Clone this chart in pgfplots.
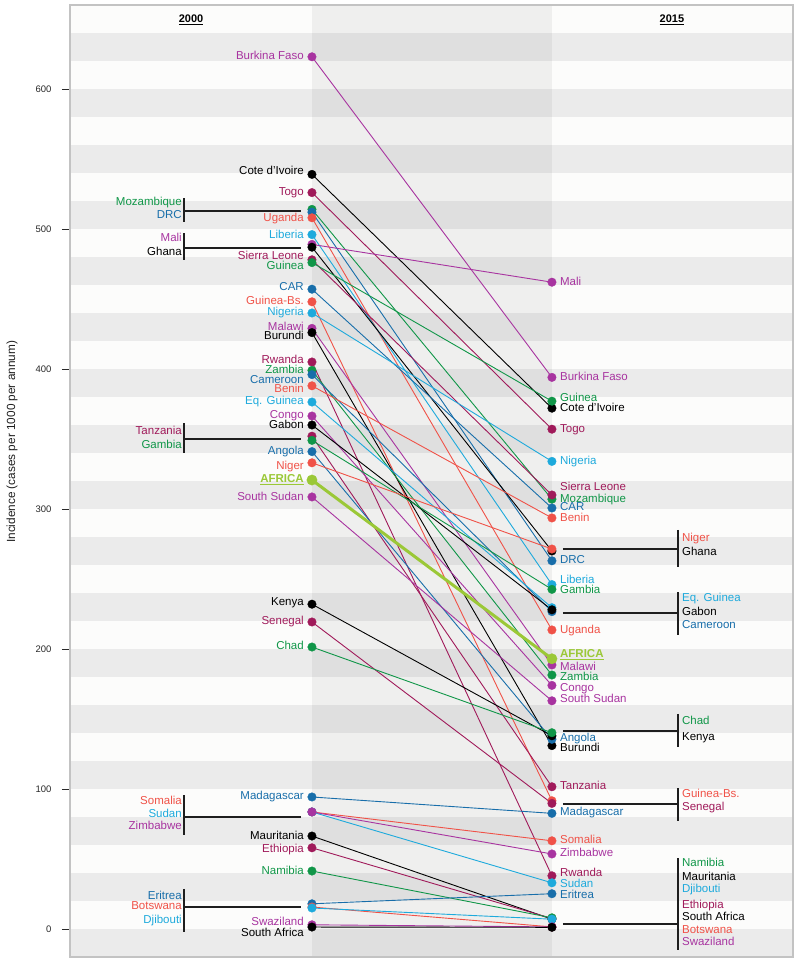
\documentclass[border=0pt]{standalone}
\usepackage{pgfplots}
\pgfplotsset{compat=1.18}
\usepackage{fontspec}
\setmainfont{Liberation Sans}
\definecolor{cGreen}{RGB}{16,150,72}
\definecolor{cBlue}{RGB}{24,110,170}
\definecolor{cCyan}{RGB}{30,170,220}
\definecolor{cMag}{RGB}{168,52,160}
\definecolor{cCrim}{RGB}{160,26,90}
\definecolor{cRed}{RGB}{240,82,72}
\definecolor{cBlack}{RGB}{0,0,0}
\definecolor{cLime}{RGB}{155,200,55}
\definecolor{stripe}{RGB}{235,235,235}
\definecolor{bgwhite}{RGB}{252,252,251}
\definecolor{frame}{RGB}{195,195,195}

\pgfplotsset{
  slopeline/.style={no markers, line width=0.9pt},
  slopemark/.style={only marks, mark=*, mark size=4.3pt, mark options={line width=0.3pt}},
  slopeline africa/.style={line width=3pt},
  slopemark africa/.style={mark size=5.2pt},
}

\newcommand\series[1]{%
\addplot[#1,cMag]   coordinates {(0,623) (1,394)};   % Burkina Faso
\addplot[#1,cBlack] coordinates {(0,539) (1,372)};   % Cote d'Ivoire
\addplot[#1,cCrim]  coordinates {(0,526) (1,357)};   % Togo
\addplot[#1,cGreen] coordinates {(0,514) (1,307)};   % Mozambique
\addplot[#1,cBlue]  coordinates {(0,512) (1,263)};   % DRC
\addplot[#1,cRed]   coordinates {(0,508) (1,213.6)}; % Uganda
\addplot[#1,cCyan]  coordinates {(0,496) (1,246)};   % Liberia
\addplot[#1,cMag]   coordinates {(0,489) (1,462)};   % Mali
\addplot[#1,cBlack] coordinates {(0,487) (1,270)};   % Ghana
\addplot[#1,cCrim]  coordinates {(0,478) (1,310)};   % Sierra Leone
\addplot[#1,cGreen] coordinates {(0,476) (1,377)};   % Guinea
\addplot[#1,cBlue]  coordinates {(0,457) (1,300.7)}; % CAR
\addplot[#1,cRed]   coordinates {(0,448) (1,91.6)};  % Guinea-Bs.
\addplot[#1,cCyan]  coordinates {(0,440) (1,334)};   % Nigeria
\addplot[#1,cMag]   coordinates {(0,429) (1,188.6)}; % Malawi
\addplot[#1,cBlack] coordinates {(0,426) (1,131)};   % Burundi
\addplot[#1,cCrim]  coordinates {(0,405) (1,38)};    % Rwanda
\addplot[#1,cGreen] coordinates {(0,399) (1,181.4)}; % Zambia
\addplot[#1,cBlue]  coordinates {(0,396) (1,226.7)}; % Cameroon
\addplot[#1,cRed]   coordinates {(0,388) (1,293.6)}; % Benin
\addplot[#1,cCyan]  coordinates {(0,376.4) (1,229.5)}; % Eq. Guinea
\addplot[#1,cMag]   coordinates {(0,366.4) (1,174)}; % Congo
\addplot[#1,cBlack] coordinates {(0,360) (1,228)};   % Gabon
\addplot[#1,cCrim]  coordinates {(0,352) (1,101.6)}; % Tanzania
\addplot[#1,cGreen] coordinates {(0,349) (1,242.6)}; % Gambia
\addplot[#1,cBlue]  coordinates {(0,341) (1,135.5)}; % Angola
\addplot[#1,cRed]   coordinates {(0,333) (1,271.4)}; % Niger
\addplot[#1,cMag]   coordinates {(0,308.6) (1,163)}; % South Sudan
\addplot[#1,cBlack] coordinates {(0,232) (1,138)};   % Kenya
\addplot[#1,cCrim]  coordinates {(0,219.3) (1,89.7)}; % Senegal
\addplot[#1,cGreen] coordinates {(0,201.4) (1,140.2)}; % Chad
\addplot[#1,cBlue]  coordinates {(0,94.3) (1,82.6)}; % Madagascar
\addplot[#1,cRed]   coordinates {(0,83.6) (1,63)};   % Somalia
\addplot[#1,cCyan]  coordinates {(0,83.6) (1,33)};   % Sudan
\addplot[#1,cMag]   coordinates {(0,83.6) (1,53.6)}; % Zimbabwe
\addplot[#1,cBlack] coordinates {(0,66.4) (1,7)};    % Mauritania
\addplot[#1,cCrim]  coordinates {(0,58) (1,7.5)};    % Ethiopia
\addplot[#1,cGreen] coordinates {(0,41.4) (1,8)};    % Namibia
\addplot[#1,cBlue]  coordinates {(0,18) (1,25.2)};   % Eritrea
\addplot[#1,cRed]   coordinates {(0,15.7) (1,1.5)};  % Botswana
\addplot[#1,cCyan]  coordinates {(0,15) (1,7)};      % Djibouti
\addplot[#1,cMag]   coordinates {(0,3) (1,1.5)};     % Swaziland
\addplot[#1,cBlack] coordinates {(0,1.4) (1,1.2)};   % South Africa
\addplot[#1,cLime,#1 africa] coordinates {(0,320.7) (1,193)}; % AFRICA
}

\newcommand\LL[3]{\node[lab,anchor=east,text=#1] at (axis cs:-0.0333,#2) {#3};}
\newcommand\RL[3]{\node[lab,anchor=west,text=#1] at (axis cs:1.0333,#2) {#3};}
\newcommand\LG[3]{\node[lab,anchor=east,text=#1] at (axis cs:-0.5417,#2) {#3};}
\newcommand\RG[3]{\node[lab,anchor=west,text=#1] at (axis cs:1.5417,#2) {#3};}
\newcommand\LB[3]{\draw[brk] (axis cs:-0.5333,#2) -- (axis cs:-0.5333,#3); \draw[brk] (axis cs:-0.5333,#1) -- (axis cs:-0.0458,#1);}
\newcommand\RB[3]{\draw[brk] (axis cs:1.525,#2) -- (axis cs:1.525,#3); \draw[brk] (axis cs:1.0458,#1) -- (axis cs:1.525,#1);}

\begin{document}
\begin{tikzpicture}[
  lab/.style={font=\fontsize{11.5}{13}\selectfont, inner sep=0pt, text height=8.3pt, text depth=2.4pt},
  brk/.style={line width=1.3pt, draw={rgb,255:red,30;green,30;blue,30}},
]
\begin{axis}[
  scale only axis,
  width=722.9pt, height=952pt,
  xmin=-1.008333, xmax=2.004167,
  ymin=-20, ymax=660,
  clip=false,
  axis on top,
  axis background/.style={fill=bgwhite},
  axis line style={draw=frame, line width=1.5pt},
  xtick=\empty,
  ytick={0,100,...,600},
  ytick pos=left,
  tick align=outside,
  major tick length=8pt,
  tick style={draw={rgb,255:red,40;green,40;blue,40}, line width=0.9pt},
  /pgf/number format/assume math mode=true,
  yticklabel style={font=\fontsize{9.5}{11}\selectfont, text={rgb,255:red,40;green,40;blue,40}, xshift=-7pt},
]
% stripes
\pgfplotsinvokeforeach{0,...,16}{
  \fill[stripe] (axis cs:-1.008333,{-20+40*#1}) rectangle (axis cs:2.004167,{40*#1});
}
% vertical band
\fill[black, opacity=0.05] (axis cs:0,-20) rectangle (axis cs:1,660);

\series{slopeline}
\series{slopemark}

% headers
\node[font=\fontsize{11}{13}\selectfont\bfseries] at (axis cs:-0.504,649.3) {\underline{2000}};
\node[font=\fontsize{11}{13}\selectfont\bfseries] at (axis cs:1.5,649.3) {\underline{2015}};
% y label
\node[rotate=90, font=\fontsize{11.8}{13}\selectfont, text={rgb,255:red,30;green,30;blue,30}] at (axis cs:-1.25,348) {Incidence (cases per 1000 per annum)};

% left labels
\LL{cMag}{622.9}{Burkina Faso}
\LL{cBlack}{540.7}{Cote d'Ivoire}
\LL{cCrim}{525.7}{Togo}
\LL{cRed}{507.1}{Uganda}
\LL{cCyan}{495}{Liberia}
\LL{cCrim}{480}{Sierra Leone}
\LL{cGreen}{472.9}{Guinea}
\LL{cBlue}{457.9}{CAR}
\LL{cRed}{447.9}{Guinea-Bs.}
\LL{cCyan}{440}{Nigeria}
\LL{cMag}{429.3}{Malawi}
\LL{cBlack}{422.9}{Burundi}
\LL{cCrim}{405.7}{Rwanda}
\LL{cGreen}{398.6}{Zambia}
\LL{cBlue}{392.1}{Cameroon}
\LL{cRed}{385}{Benin}
\LL{cCyan}{376.4}{Eq. Guinea}
\LL{cMag}{366.4}{Congo}
\LL{cBlack}{359.3}{Gabon}
\LL{cBlue}{340.7}{Angola}
\LL{cRed}{330}{Niger}
\LL{cLime}{320.7}{\underline{\textbf{AFRICA}}}
\LL{cMag}{307.9}{South Sudan}
\LL{cBlack}{232.9}{Kenya}
\LL{cCrim}{219.3}{Senegal}
\LL{cGreen}{201.4}{Chad}
\LL{cBlue}{94.3}{Madagascar}
\LL{cBlack}{65.7}{Mauritania}
\LL{cCrim}{57.1}{Ethiopia}
\LL{cGreen}{40.7}{Namibia}
\LL{cMag}{4.3}{Swaziland}
\LL{cBlack}{-3.6}{South Africa}
% left groups
\LB{512.9}{522.1}{505}
\LG{cGreen}{518.6}{Mozambique}
\LG{cBlue}{509.3}{DRC}
\LB{486.4}{497}{477.9}
\LG{cMag}{492.9}{Mali}
\LG{cBlack}{482.9}{Ghana}
\LB{350}{361.4}{340}
\LG{cCrim}{355}{Tanzania}
\LG{cGreen}{345}{Gambia}
\LB{80}{95.7}{67.1}
\LG{cRed}{90.7}{Somalia}
\LG{cCyan}{81.4}{Sudan}
\LG{cMag}{72.9}{Zimbabwe}
\LB{15.7}{28.6}{-2.1}
\LG{cBlue}{22.9}{Eritrea}
\LG{cRed}{15.7}{Botswana}
\LG{cCyan}{5.7}{Djibouti}

% right labels
\RL{cMag}{461.4}{Mali}
\RL{cMag}{393.6}{Burkina Faso}
\RL{cGreen}{378.6}{Guinea}
\RL{cBlack}{371.4}{Cote d'Ivoire}
\RL{cCrim}{356.4}{Togo}
\RL{cCyan}{333.6}{Nigeria}
\RL{cCrim}{315}{Sierra Leone}
\RL{cGreen}{307.1}{Mozambique}
\RL{cBlue}{300.7}{CAR}
\RL{cRed}{292.9}{Benin}
\RL{cBlue}{262.9}{DRC}
\RL{cCyan}{248.6}{Liberia}
\RL{cGreen}{241.4}{Gambia}
\RL{cRed}{212.9}{Uganda}
\RL{cLime}{195.7}{\underline{\textbf{AFRICA}}}
\RL{cMag}{187.1}{Malawi}
\RL{cGreen}{179.3}{Zambia}
\RL{cMag}{171.4}{Congo}
\RL{cMag}{163.6}{South Sudan}
\RL{cBlue}{135.7}{Angola}
\RL{cBlack}{128.6}{Burundi}
\RL{cCrim}{101.4}{Tanzania}
\RL{cBlue}{82.9}{Madagascar}
\RL{cRed}{62.9}{Somalia}
\RL{cMag}{53.6}{Zimbabwe}
\RL{cCrim}{39.3}{Rwanda}
\RL{cCyan}{32.1}{Sudan}
\RL{cBlue}{23.6}{Eritrea}
% right groups
\RB{271.4}{285}{258.6}
\RG{cRed}{278.6}{Niger}
\RG{cBlack}{268.6}{Ghana}
\RB{225.7}{240.7}{210}
\RG{cCyan}{235.7}{Eq. Guinea}
\RG{cBlack}{225.7}{Gabon}
\RG{cBlue}{216.4}{Cameroon}
\RB{141.4}{153.6}{130}
\RG{cGreen}{147.9}{Chad}
\RG{cBlack}{137.1}{Kenya}
\RB{89.3}{100.7}{77.1}
\RG{cRed}{95.7}{Guinea-Bs.}
\RG{cCrim}{86.4}{Senegal}
\RB{3.6}{50.7}{-15}
\RG{cGreen}{46.4}{Namibia}
\RG{cBlack}{37.1}{Mauritania}
\RG{cCyan}{27.9}{Djibouti}
\RG{cCrim}{17.1}{Ethiopia}
\RG{cBlack}{7.9}{South Africa}
\RG{cRed}{-1.4}{Botswana}
\RG{cMag}{-10}{Swaziland}

\coordinate (bbSW) at (axis cs:-1.3,-25);
\coordinate (bbNE) at (axis cs:2.033333,663.5714);
\end{axis}
\pgfresetboundingbox
\path[use as bounding box] (bbSW) rectangle (bbNE);
\end{tikzpicture}
\end{document}
